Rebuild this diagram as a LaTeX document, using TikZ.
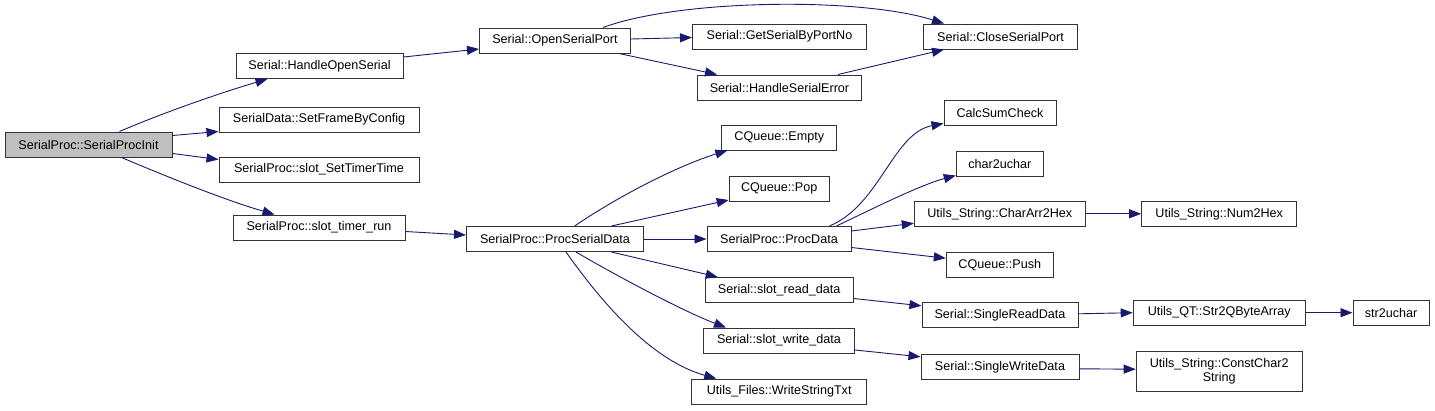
\documentclass[tikz,border=0pt]{standalone}
\usepackage{fontspec}
\setmainfont{Liberation Sans}
\usetikzlibrary{arrows.meta,calc}
\definecolor{edgeblue}{HTML}{191970}
\definecolor{rootgray}{HTML}{BFBFBF}
\begin{document}
\begin{tikzpicture}[x=1pt,y=-1pt,
  box/.style={draw=black!80,line width=1pt,fill=white,rectangle,inner sep=0pt,minimum height=25pt,align=center,font=\fontsize{12.6}{14}\selectfont},
  edge/.style={draw=edgeblue,line width=0.9pt,-{Triangle[length=12pt,width=9pt]}}]
\useasboundingbox (0,0) rectangle (1435,410);
% nodes
\node[box,fill=rootgray,minimum width=167pt] (init) at (88.5,144.5) {SerialProc::SerialProcInit};
\node[box,minimum width=167pt] (hos) at (319.5,66) {Serial::HandleOpenSerial};
\node[box,minimum width=200pt] (sfc) at (319,119.5) {SerialData::SetFrameByConfig};
\node[box,minimum width=200pt] (sstt) at (319,169.5) {SerialProc::slot\_SetTimerTime};
\node[box,minimum width=172pt] (str) at (319,227.5) {SerialProc::slot\_timer\_run};
\node[box,minimum width=151pt] (osp) at (555,40.5) {Serial::OpenSerialPort};
\node[box,minimum width=174pt] (gsp) at (779.5,36.5) {Serial::GetSerialByPortNo};
\node[box,minimum width=154pt] (csp) at (1000.5,36.5) {Serial::CloseSerialPort};
\node[box,minimum width=164pt] (hse) at (779.5,87.5) {Serial::HandleSerialError};
\node[box,minimum width=177pt] (psd) at (555,239) {SerialProc::ProcSerialData};
\node[box,minimum width=115pt] (empty) at (779.3,137.5) {CQueue::Empty};
\node[box,minimum width=100pt] (pop) at (779.2,188.5) {CQueue::Pop};
\node[box,minimum width=144pt] (pd) at (779,239) {SerialProc::ProcData};
\node[box,minimum width=148pt] (srd) at (779.2,290) {Serial::slot\_read\_data};
\node[box,minimum width=151pt] (swd) at (779,340.5) {Serial::slot\_write\_data};
\node[box,minimum width=175pt] (wst) at (779.2,391.5) {Utils\_Files::WriteStringTxt};
\node[box,minimum width=112pt] (csc) at (1000,112.5) {CalcSumCheck};
\node[box,minimum width=87pt] (c2u) at (999.8,163.5) {char2uchar};
\node[box,minimum width=171pt] (ca2h) at (999.8,213.8) {Utils\_String::CharArr2Hex};
\node[box,minimum width=155pt] (n2h) at (1219.2,213.8) {Utils\_String::Num2Hex};
\node[box,minimum width=107pt] (push) at (999.8,264.7) {CQueue::Push};
\node[box,minimum width=156pt] (sreadd) at (1000,315.3) {Serial::SingleReadData};
\node[box,minimum width=172pt] (s2q) at (1219.2,312.7) {Utils\_QT::Str2QByteArray};
\node[box,minimum width=76pt] (s2u) at (1391,312.7) {str2uchar};
\node[box,minimum width=158pt] (swrd) at (1000,367.3) {Serial::SingleWriteData};
\node[box,minimum width=166pt,minimum height=40pt] (cc2s) at (1219.2,371.2) {Utils\_String::ConstChar2\\String};
% edges
\draw[edge] ($(init.north west)+(115,0)$) .. controls (165,112) and (220,93) .. ($(hos.south west)+(32,0)$);
\draw[edge] ($(init.east)+(0,-9)$) -- ($(sfc.south west)+(0,-1)$);
\draw[edge] ($(init.east)+(0,9)$) -- ($(sstt.west)+(0,-10)$);
\draw[edge] ($(init.south west)+(117,0)$) .. controls (170,178) and (225,200) .. ($(str.north west)+(42,0)$);
\draw[edge] ($(hos.east)+(0,-9)$) -- ($(osp.west)+(0,8.5)$);
\draw[edge] ($(str.east)+(0,4)$) -- ($(psd.west)+(0,-4)$);
\draw[edge] ($(osp.north west)+(124,0)$) .. controls (680,-1) and (860,-3) .. ($(csp.north west)+(21,0)$);
\draw[edge] ($(osp.east)+(0,-1.5)$) -- ($(gsp.west)+(0,1)$);
\draw[edge] ($(osp.south west)+(140,0)$) -- ($(hse.north west)+(20,0)$);
\draw[edge] ($(hse.north west)+(141,0)$) -- ($(csp.south west)+(21,0)$);
\draw[edge] ($(psd.north west)+(108.7,0)$) .. controls (620,195) and (680,165) .. ($(empty.south west)+(6,0)$);
\draw[edge] ($(psd.north west)+(145.4,0)$) -- ($(pop.south west)+(0,-1.5)$);
\draw[edge] (psd.east) -- (pd.west);
\draw[edge] ($(psd.south west)+(145.4,0)$) -- ($(srd.north west)+(13,0)$);
\draw[edge] ($(psd.south west)+(110,0)$) .. controls (610,272) and (680,310) .. ($(swd.north west)+(23,0)$);
\draw[edge] ($(psd.south west)+(100,0)$) .. controls (600,300) and (650,360) .. ($(wst.north west)+(25,0)$);
\draw[edge] ($(pd.north west)+(123,0)$) .. controls (880,205) and (893,133) .. ($(csc.south west)+(0,-2)$);
\draw[edge] ($(pd.north west)+(130,0)$) .. controls (870,210) and (920,185) .. ($(c2u.south west)+(0,-1)$);
\draw[edge] ($(pd.east)+(0,-8)$) -- ($(ca2h.south west)+(0,-3.5)$);
\draw[edge] ($(pd.east)+(0,8.5)$) -- ($(push.west)+(0,-6.5)$);
\draw[edge] (ca2h.east) -- (n2h.west);
\draw[edge] ($(srd.east)+(0,8.5)$) -- ($(sreadd.west)+(0,-9.5)$);
\draw[edge] ($(swd.east)+(0,9.5)$) -- ($(swrd.west)+(0,-10.5)$);
\draw[edge] ($(sreadd.east)+(0,-1.5)$) -- (s2q.west);
\draw[edge] (s2q.east) -- (s2u.west);
\draw[edge] ($(swrd.east)+(0,1.5)$) -- ($(cc2s.west)+(0,-2)$);
\end{tikzpicture}
\end{document}
